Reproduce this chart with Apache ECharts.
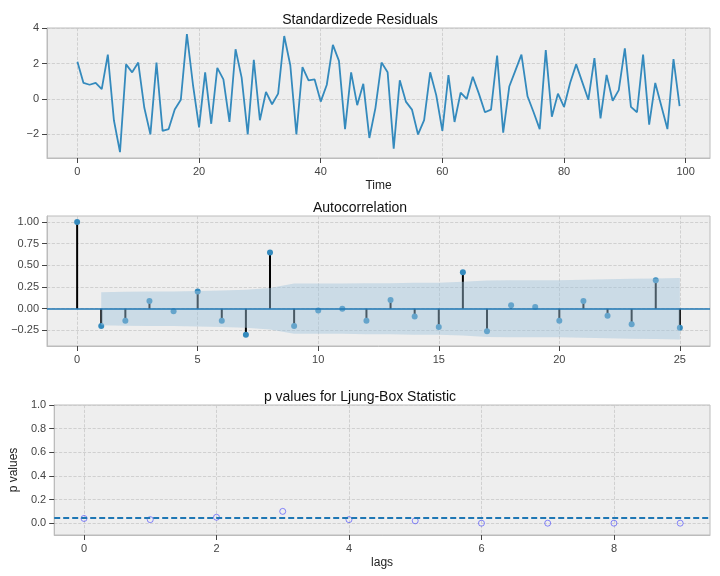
<!DOCTYPE html>
<html>
<head>
<meta charset="UTF-8">
<script src="https://cdn.jsdelivr.net/npm/echarts@6/dist/echarts.min.js"></script>
<style>body{margin:0;background:#fff}#main{width:720px;height:576px}</style>
</head>
<body>
<div id="main"></div>
<script>
// residuals
var resid = [2.1,0.9,0.8,0.9,0.55,2.5,-1.2,-3.0,1.95,1.5,2.05,-0.5,-2.0,2.05,-1.8,-1.7,-0.6,-0.05,3.65,0.8,
  -1.6,1.5,-1.4,1.75,1.1,-1.3,2.8,1.2,-2.0,2.2,-1.2,0.4,-0.3,0.3,3.55,1.9,-2.0,1.8,1.05,1.1,
  -0.15,0.8,3.05,2.15,-1.7,1.5,-0.35,0.85,-2.2,-0.5,2.05,1.5,-2.8,1.05,-0.15,-0.6,-2.0,-1.2,1.5,0.2,
  -1.8,1.35,-1.3,0.35,0.0,1.25,0.3,-0.75,-0.6,2.45,-1.9,0.7,1.6,2.5,0.15,-0.75,-1.7,2.75,-1.0,0.3,
  -0.45,0.9,1.95,0.95,-0.05,2.3,-1.1,1.35,-0.1,0.5,2.85,-0.45,-0.75,2.5,-1.45,0.9,-0.4,-1.7,2.25,-0.4];
var acf = [1.0,-0.2,-0.14,0.09,-0.03,0.2,-0.14,-0.3,0.65,-0.2,-0.02,0.0,-0.14,0.1,-0.09,-0.21,0.42,-0.26,0.04,0.02,-0.14,0.09,-0.08,-0.18,0.33,-0.22];
// confidence half-width per lag (lag 1..25)
var confWidth = [0.19,0.195,0.2,0.2,0.205,0.21,0.22,0.24,0.29,0.29,0.29,0.295,0.295,0.3,0.3,0.31,0.325,0.33,0.33,0.33,0.335,0.34,0.345,0.35,0.355];
var pvals = [0.04,0.03,0.05,0.1,0.03,0.02,0.0,0.0,0.0,0.0];
var pLevel = 0.05;

var axisLine = {show:true, onZero:false, lineStyle:{color:'#bcbcbc'}};
var split = {show:true, lineStyle:{color:'#c8c8c8', type:'dashed', width:0.8}};
var lab = {color:'#444', fontSize:11};
var grids = [
  {left:47, right:10, top:28, height:130, backgroundColor:'#eeeeee', show:true, borderColor:'#bcbcbc'},
  {left:47, right:10, top:216, height:130, backgroundColor:'#eeeeee', show:true, borderColor:'#bcbcbc'},
  {left:47, right:10, top:405, height:130, backgroundColor:'#eeeeee', show:true, borderColor:'#bcbcbc'}
];
function xAx(i, min, max, vals, name){
  return {type:'value', gridIndex:i, min:min, max:max, name:name, nameLocation:'middle', nameGap:22,
    nameTextStyle:{color:'#222', fontSize:12},
    axisLine:axisLine, axisTick:{show:true, customValues:vals, lineStyle:{color:'#444'}},
    axisLabel:Object.assign({customValues:vals}, lab), splitLine:split};
}
function yAx(i, min, max, vals, name){
  return {type:'value', gridIndex:i, min:min, max:max, name:name, nameLocation:'middle', nameGap:30,
    nameTextStyle:{color:'#222', fontSize:12},
    axisLine:axisLine, axisTick:{show:true, customValues:vals, lineStyle:{color:'#444'}},
    axisLabel:Object.assign({customValues:vals, formatter:function(v){return v.toFixed(i==0?0:(i==1?2:1)).replace('-','−');}}, lab), splitLine:split};
}
var lo = [], hi = [];
for (var k = 1; k <= 25; k++) { lo.push([k, -confWidth[k-1]]); hi.push([k, confWidth[k-1]]); }
var band = 'rgba(161,196,220,0.65)';

var option = {
  animation:false,
  title:[
    {text:'Standardizede Residuals', left:'center', top:8, textStyle:{fontSize:14, fontWeight:'normal', color:'#111'}},
    {text:'Autocorrelation', left:'center', top:196, textStyle:{fontSize:14, fontWeight:'normal', color:'#111'}},
    {text:'p values for Ljung-Box Statistic', left:'center', top:385, textStyle:{fontSize:14, fontWeight:'normal', color:'#111'}}
  ],
  grid:grids,
  xAxis:[xAx(0,-5,104,[0,20,40,60,80,100],'Time'), xAx(1,-1.25,26.25,[0,5,10,15,20,25],''), xAx(2,-0.45,9.45,[0,2,4,6,8],'lags')],
  yAxis:[yAx(0,-3.33,4,[-2,0,2,4],''), yAx(1,-0.43,1.07,[-0.25,0,0.25,0.5,0.75,1.0],''), yAx(2,-0.1,1.0,[0,0.2,0.4,0.6,0.8,1.0],'p values')],
  series:[
    {type:'line', xAxisIndex:0, yAxisIndex:0, showSymbol:false, data:resid.map(function(v,i){return [i,v];}),
      lineStyle:{color:'#348abd', width:1.8}},
    {type:'line', xAxisIndex:1, yAxisIndex:1, showSymbol:false, data:lo, lineStyle:{width:0}, areaStyle:{color:band, origin:0}},
    {type:'line', xAxisIndex:1, yAxisIndex:1, showSymbol:false, data:hi, lineStyle:{width:0}, areaStyle:{color:band, origin:0}},
    {type:'bar', xAxisIndex:1, yAxisIndex:1, barWidth:2, data:acf.map(function(v,i){return [i,v];}), itemStyle:{color:'#000'}},
    {type:'scatter', xAxisIndex:1, yAxisIndex:1, symbolSize:6, data:acf.map(function(v,i){return [i,v];}), itemStyle:{color:'#348abd', opacity:1},
      markLine:{silent:true, symbol:'none', label:{show:false}, lineStyle:{color:'#1f77b4', width:1.5, type:'solid'}, data:[{yAxis:0}]}},
    {type:'scatter', xAxisIndex:2, yAxisIndex:2, symbolSize:6, data:pvals.map(function(v,i){return [i,v];}),
      itemStyle:{color:'none', borderColor:'#3333ff', borderWidth:0.7},
      markLine:{silent:true, symbol:'none', label:{show:false}, lineStyle:{color:'#1f77b4', width:1.8, type:[6,3]}, data:[{yAxis:pLevel}]}}
  ]
};
echarts.init(document.getElementById('main')).setOption(option);
</script>
</body>
</html>
